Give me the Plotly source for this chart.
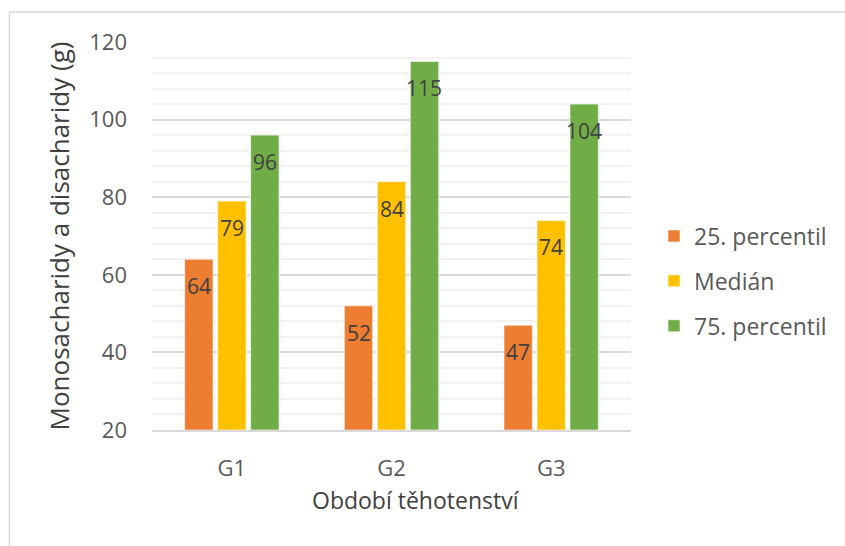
import plotly.graph_objects as go

categories = ["G1", "G2", "G3"]
series_names = ["25. percentil", "Medián", "75. percentil"]
p25 = [64, 52, 47]
median = [79, 84, 74]
p75 = [96, 115, 104]
colors = ["#ED7D31", "#FFC000", "#70AD47"]
y_ticks = [20, 40, 60, 80, 100, 120]
y_min, y_max = 20, 120

FONT = "Open Sans"
W, H = 845, 546
ML, MR, MT, MB = 152, 214, 42, 116
BARGAP, GROUPGAP = 0.38, 0.14
plot_w = W - ML - MR
plot_h = H - MT - MB

fig = go.Figure()
all_series = [p25, median, p75]
for i, (name, vals, col) in enumerate(zip(series_names, all_series, colors)):
    fig.add_trace(go.Bar(
        x=categories, y=[v - y_min for v in vals], base=y_min, name=name,
        marker=dict(color=col, line=dict(color="rgba(255,255,255,0.6)", width=1)),
        legendgroup=str(i), hoverinfo="skip",
    ))

# data labels, placed at each bar's value through the axes
cat_px = plot_w / len(categories)
slot_px = cat_px * (1 - BARGAP) / len(all_series)
for i, vals in enumerate(all_series):
    for c, v in zip(categories, vals):
        fig.add_annotation(
            x=c, y=v, xref="x", yref="y", text=str(v), showarrow=False,
            xshift=(i - (len(all_series) - 1) / 2) * slot_px, yshift=-27,
            font=dict(family=FONT, size=21, color="#404040"),
        )

fig.update_layout(
    width=W, height=H,
    margin=dict(l=ML, r=MR, t=MT, b=MB),
    paper_bgcolor="white", plot_bgcolor="white",
    barmode="group", bargap=BARGAP, bargroupgap=GROUPGAP,
    font=dict(family=FONT, color="#595959", size=18),
    legend=dict(x=(654 - ML) / plot_w, y=0.384, xanchor="left", yanchor="middle",
                font=dict(size=23, color="#595959", family=FONT),
                tracegroupgap=12, itemwidth=30),
    showlegend=True,
)
fig.update_yaxes(
    range=[y_min, y_max], tickvals=y_ticks, showgrid=True, gridcolor="#D9D9D9", gridwidth=1.5,
    minor=dict(dtick=4, tick0=20, showgrid=True, gridcolor="#F2F2F2", gridwidth=1.5),
    zeroline=False, showline=False, ticklabelstandoff=24,
    tickfont=dict(size=22, color="#595959"),
    title=dict(text="Monosacharidy a disacharidy (g)", font=dict(size=26, color="#404040"), standoff=12),
)
fig.update_xaxes(
    showline=True, linecolor="#D9D9D9", linewidth=1.5, ticks="",
    ticklabelstandoff=18, tickfont=dict(size=22, color="#595959"),
)
fig.add_annotation(
    text="Období těhotenství", xref="paper", yref="paper",
    x=(416 - ML) / plot_w, y=(430 - 500) / plot_h, xanchor="center", yanchor="middle",
    showarrow=False, font=dict(family=FONT, size=23, color="#404040"),
)
fig.add_shape(type="rect", xref="paper", yref="paper",
              x0=(9.5 - ML) / plot_w, x1=3, y0=-2, y1=(430 - 12) / plot_h,
              line=dict(color="#D9D9D9", width=1.5), fillcolor="rgba(0,0,0,0)", layer="below")
fig.write_html("out.html")
